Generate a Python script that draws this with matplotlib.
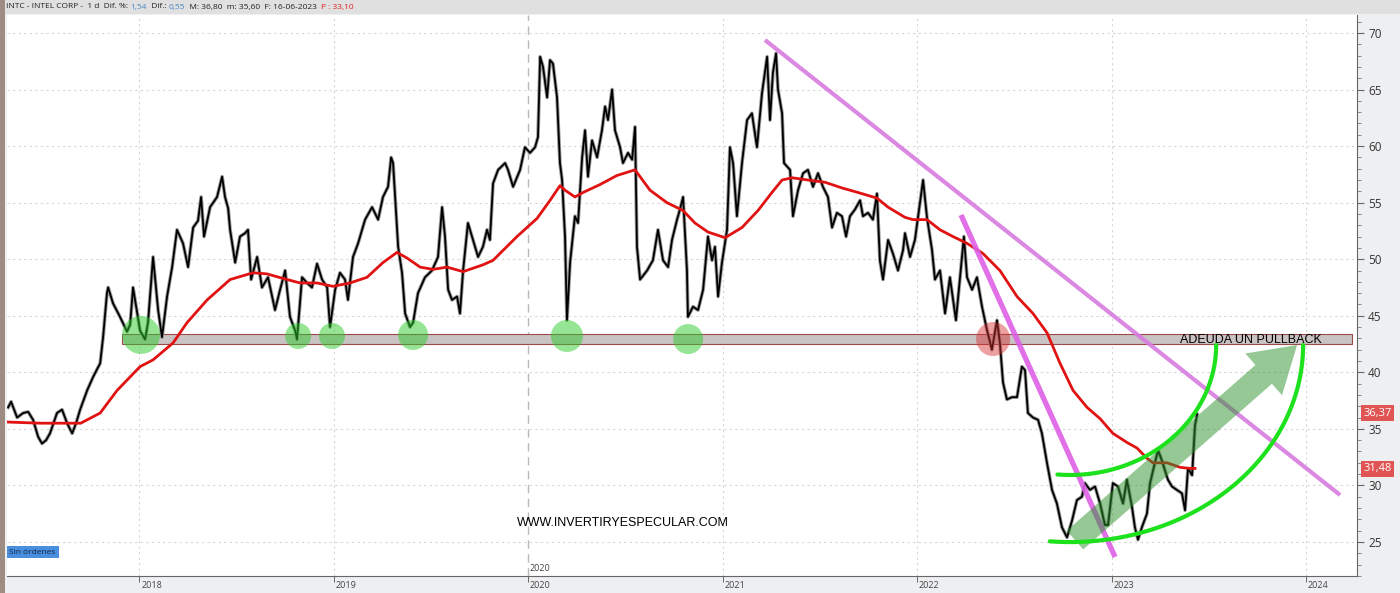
import matplotlib
matplotlib.use("Agg")
import matplotlib.pyplot as plt
import matplotlib.transforms as mtransforms
from matplotlib.patches import Ellipse, Rectangle, FancyArrowPatch
from matplotlib.ticker import MultipleLocator
import numpy as np

# ---------------- data ----------------
dates = [
    2017.327, 2017.342, 2017.373, 2017.404, 2017.430, 2017.455, 2017.481, 2017.501, 2017.522, 2017.542,
    2017.578, 2017.604, 2017.630, 2017.656, 2017.676, 2017.697, 2017.733, 2017.764, 2017.800, 2017.815,
    2017.835, 2017.841, 2017.866, 2017.902, 2017.938, 2017.954, 2017.969, 2018.005, 2018.031, 2018.046,
    2018.072, 2018.098, 2018.118, 2018.144, 2018.170, 2018.195, 2018.226, 2018.252, 2018.278, 2018.303,
    2018.319, 2018.334, 2018.365, 2018.401, 2018.427, 2018.442, 2018.458, 2018.468, 2018.494, 2018.519,
    2018.545, 2018.560, 2018.576, 2018.607, 2018.632, 2018.663, 2018.699, 2018.725, 2018.751, 2018.776,
    2018.802, 2018.812, 2018.838, 2018.864, 2018.889, 2018.915, 2018.941, 2018.967, 2018.982, 2019.008,
    2019.033, 2019.059, 2019.074, 2019.100, 2019.126, 2019.162, 2019.198, 2019.229, 2019.254, 2019.280,
    2019.296, 2019.306, 2019.332, 2019.352, 2019.368, 2019.393, 2019.409, 2019.434, 2019.470, 2019.506,
    2019.537, 2019.558, 2019.573, 2019.589, 2019.609, 2019.635, 2019.650, 2019.666, 2019.691, 2019.717,
    2019.743, 2019.768, 2019.789, 2019.804, 2019.820, 2019.846, 2019.882, 2019.897, 2019.923, 2019.959,
    2019.984, 2020.010, 2020.036, 2020.051, 2020.062, 2020.077, 2020.098, 2020.113, 2020.128, 2020.149,
    2020.164, 2020.175, 2020.190, 2020.200, 2020.216, 2020.241, 2020.257, 2020.278, 2020.293, 2020.308,
    2020.329, 2020.355, 2020.380, 2020.396, 2020.411, 2020.432, 2020.447, 2020.473, 2020.488, 2020.514,
    2020.535, 2020.550, 2020.560, 2020.576, 2020.612, 2020.642, 2020.668, 2020.694, 2020.720, 2020.740,
    2020.766, 2020.781, 2020.797, 2020.817, 2020.822, 2020.848, 2020.874, 2020.900, 2020.925, 2020.946,
    2020.961, 2020.977, 2020.997, 2021.023, 2021.038, 2021.054, 2021.074, 2021.100, 2021.126, 2021.151,
    2021.177, 2021.203, 2021.229, 2021.244, 2021.259, 2021.275, 2021.285, 2021.306, 2021.316, 2021.347,
    2021.362, 2021.388, 2021.414, 2021.439, 2021.465, 2021.491, 2021.516, 2021.542, 2021.563, 2021.588,
    2021.614, 2021.635, 2021.655, 2021.681, 2021.707, 2021.722, 2021.748, 2021.773, 2021.794, 2021.809,
    2021.825, 2021.851, 2021.876, 2021.902, 2021.928, 2021.938, 2021.964, 2021.989, 2022.005, 2022.031,
    2022.051, 2022.077, 2022.092, 2022.118, 2022.144, 2022.169, 2022.200, 2022.221, 2022.241, 2022.257,
    2022.283, 2022.308, 2022.334, 2022.360, 2022.385, 2022.411, 2022.426, 2022.442, 2022.462, 2022.488,
    2022.514, 2022.539, 2022.555, 2022.570, 2022.596, 2022.622, 2022.642, 2022.668, 2022.694, 2022.719,
    2022.745, 2022.771, 2022.797, 2022.822, 2022.848, 2022.863, 2022.889, 2022.915, 2022.941, 2022.966,
    2022.982, 2023.007, 2023.033, 2023.059, 2023.079, 2023.105, 2023.120, 2023.136, 2023.156, 2023.182,
    2023.198, 2023.223, 2023.239, 2023.259, 2023.275, 2023.290, 2023.311, 2023.336, 2023.362, 2023.378,
    2023.393, 2023.414, 2023.429, 2023.440,
]
close = [
    36.9, 37.4, 36.0, 36.4, 36.5, 35.8, 34.3, 33.7, 34.0, 34.6,
    36.4, 36.7, 35.5, 34.6, 35.5, 36.7, 38.4, 39.6, 40.8, 43.1,
    47.0, 47.5, 46.1, 44.9, 43.6, 44.2, 47.5, 43.7, 42.9, 44.4,
    50.2, 45.5, 43.1, 46.7, 49.3, 52.6, 51.4, 49.3, 52.8, 53.4,
    55.5, 52.0, 54.6, 55.5, 57.3, 55.5, 54.5, 52.6, 49.7, 52.0,
    52.3, 52.6, 48.2, 50.2, 47.5, 48.4, 45.5, 47.3, 49.0, 44.9,
    43.7, 42.9, 48.4, 47.9, 47.5, 49.6, 48.2, 47.5, 44.0, 47.3,
    48.8, 48.2, 46.4, 50.2, 51.4, 53.5, 54.6, 53.5, 55.5, 56.4,
    59.0, 58.5, 51.1, 48.8, 45.2, 44.0, 44.4, 47.0, 48.4, 49.0,
    50.2, 54.6, 52.0, 47.3, 46.4, 46.7, 45.2, 49.0, 53.2, 51.7,
    50.2, 51.1, 52.6, 51.7, 56.7, 57.9, 58.5, 57.9, 56.4, 57.9,
    59.9, 59.4, 59.9, 60.8, 67.9, 67.0, 64.3, 67.6, 67.3, 64.3,
    58.5, 57.0, 52.0, 44.6, 49.7, 53.8, 53.2, 59.0, 61.4, 57.3,
    60.5, 59.0, 61.4, 63.5, 62.3, 65.0, 61.4, 59.9, 58.5, 59.4,
    58.8, 61.7, 51.1, 48.2, 49.0, 49.9, 52.6, 49.9, 49.3, 51.7,
    53.5, 54.4, 55.5, 49.0, 44.9, 45.8, 45.5, 47.3, 52.0, 49.9,
    51.1, 46.7, 49.7, 52.6, 59.9, 58.5, 53.8, 58.5, 62.3, 62.9,
    59.9, 64.7, 67.9, 62.3, 66.5, 68.2, 65.0, 62.9, 58.5, 57.9,
    53.8, 56.1, 57.6, 57.9, 56.4, 57.6, 56.4, 55.5, 52.8, 54.1,
    53.8, 52.0, 53.8, 54.4, 55.2, 53.8, 54.1, 53.5, 55.8, 49.9,
    48.2, 51.7, 50.5, 49.0, 50.8, 52.3, 50.2, 51.7, 53.7, 57.0,
    53.7, 50.8, 48.2, 49.0, 45.2, 48.4, 44.6, 48.4, 52.0, 48.4,
    47.3, 48.4, 45.8, 43.7, 42.0, 44.6, 42.6, 39.1, 37.6, 37.8,
    37.8, 40.5, 40.2, 36.4, 36.0, 35.8, 34.6, 32.0, 29.6, 28.4,
    26.3, 25.4, 26.9, 28.7, 29.0, 30.2, 29.6, 29.9, 28.4, 26.5,
    26.5, 30.2, 29.9, 28.4, 30.5, 28.1, 26.3, 25.2, 26.3, 27.5,
    30.2, 32.0, 33.1, 32.2, 31.3, 30.5, 29.9, 29.6, 29.3, 27.8,
    31.5, 30.9, 35.3, 36.3,
]
ma_dates = [
    2017.327, 2017.490, 2017.700, 2017.800, 2017.887, 2018.005, 2018.072, 2018.175, 2018.247, 2018.350,
    2018.468, 2018.586, 2018.658, 2018.761, 2018.828, 2018.915, 2018.997, 2019.085, 2019.172, 2019.254,
    2019.326, 2019.378, 2019.445, 2019.511, 2019.583, 2019.666, 2019.768, 2019.820, 2019.943, 2020.046,
    2020.113, 2020.164, 2020.190, 2020.241, 2020.283, 2020.370, 2020.457, 2020.550, 2020.627, 2020.714,
    2020.797, 2020.858, 2020.925, 2021.013, 2021.100, 2021.182, 2021.254, 2021.306, 2021.357, 2021.439,
    2021.527, 2021.614, 2021.696, 2021.794, 2021.851, 2021.938, 2021.979, 2022.051, 2022.118, 2022.185,
    2022.257, 2022.339, 2022.426, 2022.514, 2022.596, 2022.668, 2022.735, 2022.802, 2022.874, 2022.941,
    2023.007, 2023.079, 2023.131, 2023.182, 2023.213, 2023.285, 2023.352, 2023.403, 2023.429,
]
ma_values = [
    35.6, 35.5, 35.5, 36.4, 38.4, 40.5, 41.1, 42.6, 44.4, 46.4,
    48.2, 48.8, 48.7, 48.2, 47.9, 47.9, 47.6, 47.9, 48.4, 49.7,
    50.6, 50.1, 49.3, 49.1, 49.3, 48.9, 49.5, 49.9, 52.0, 53.6,
    55.2, 56.5, 56.1, 55.5, 55.9, 56.6, 57.4, 57.9, 56.1, 55.0,
    54.3, 53.2, 52.4, 51.9, 52.8, 54.3, 55.9, 57.0, 57.2, 57.0,
    56.8, 56.3, 55.9, 55.4, 54.6, 53.7, 53.5, 53.5, 52.6, 52.0,
    51.4, 50.5, 49.0, 46.7, 45.2, 43.5, 40.8, 38.4, 36.9, 35.9,
    34.6, 33.8, 33.3, 32.4, 32.0, 32.0, 31.6, 31.5, 31.5,
]
year_ticks = [2018, 2019, 2020, 2021, 2022, 2023, 2024]
year_labels = ["2018", "2019", "2020", "2021", "2022", "2023", "2024"]
price_ticks = [25, 30, 35, 40, 45, 50, 55, 60, 65, 70]

last_price_label = 36.37
ma_price_label = 31.48

support_low, support_high = 42.5, 43.4
support_start, support_end = 2017.913, 2024.237
support_touches = [(2018.010, 43.30, 19), (2018.818, 43.21, 13), (2018.992, 43.21, 13),
                   (2019.409, 43.30, 15), (2020.200, 43.21, 16), (2020.823, 42.94, 15)]
break_touch = (2022.391, 42.94, 17)
long_trend = [(2021.218, 69.38), (2024.175, 29.15)]
steep_trend = [(2022.226, 53.91), (2023.018, 23.67)]
arc_center = (2022.787, 42.41)
inner_arc = (0.751, 11.49)
outer_arc = (1.198, 17.42)
arrow_tail = (2022.812, 25.17)
arrow_tip = (2023.954, 42.41)

# ---------------- figure ----------------
W, H = 1400, 593
fig = plt.figure(figsize=(W / 100, H / 100), dpi=100, facecolor="#EEEFF1")
ax = fig.add_axes([7 / W, 17 / H, 1350 / W, 561 / H])
ax.set_facecolor("white")
ax.set_xlim(2017.321, 2024.262)
ax.set_ylim(21.99, 71.59)

px_x = 1350 / (2024.262 - 2017.321)   # pixels per year
px_y = 561 / (71.59 - 21.99)          # pixels per dollar

# grid
for yv in price_ticks:
    ax.axhline(yv, color="#d6d6d6", lw=0.8, ls=(0, (2, 3)), zorder=0)
for xv in year_ticks:
    if xv != 2020:
        ax.axvline(xv, color="#d6d6d6", lw=0.8, ls=(0, (2, 3)), zorder=0)
ax.axvline(2020, color="#b8b8b8", lw=1.0, ls=(0, (6, 4)), zorder=0)
ax.text(2020.006, 22.65, "2020", fontsize=6.5, color="#444444", va="center", ha="left",
        family="Open Sans")

# support band
ax.add_patch(Rectangle((support_start, support_low), support_end - support_start,
                       support_high - support_low, facecolor="#c9c3c3", edgecolor="#9b4a4a",
                       lw=0.8, zorder=1))

# price and moving average
ax.plot(dates, close, color="#9a9a9a", lw=2.6, zorder=2)
ax.plot(dates, close, color="black", lw=1.3, zorder=3)
ax.plot(ma_dates, ma_values, color="#e01212", lw=2.0, zorder=4)

# touches
for (cx, cy, r) in support_touches:
    ax.add_patch(Ellipse((cx, cy), 2 * r / px_x, 2 * r / px_y, facecolor="#2dcd2d",
                         alpha=0.5, edgecolor="none", zorder=5))
cx, cy, r = break_touch
ax.add_patch(Ellipse((cx, cy), 2 * r / px_x, 2 * r / px_y, facecolor="#d72d2d",
                     alpha=0.45, edgecolor="none", zorder=5))

# trend lines
ax.plot([p[0] for p in long_trend], [p[1] for p in long_trend], color="#d77be0",
        lw=3.0, alpha=0.9, solid_capstyle="butt", zorder=6)
ax.plot([p[0] for p in steep_trend], [p[1] for p in steep_trend], color="#dd5fe6",
        lw=3.8, alpha=0.9, solid_capstyle="butt", zorder=6)

# arcs
t = np.radians(np.linspace(265, 360, 200))
for (a, b) in (inner_arc, outer_arc):
    ax.plot(arc_center[0] + a * np.cos(t), arc_center[1] + b * np.sin(t),
            color="#1ee11e", lw=3.0, solid_capstyle="round", zorder=7)

# arrow
arrow = FancyArrowPatch(arrow_tail, arrow_tip,
                        arrowstyle="simple,head_length=1.6,head_width=2.0,tail_width=0.9",
                        mutation_scale=20, facecolor="#2e922e", edgecolor="none",
                        alpha=0.5, shrinkA=0, shrinkB=0, zorder=6)
ax.add_patch(arrow)

# texts
ax.text(2023.717, 42.86, "ADEUDA UN PULLBACK", fontsize=9, color="black", ha="center",
        va="center", family="Liberation Sans", zorder=8)
ax.text(2020.488, 26.67, "WWW.INVERTIRYESPECULAR.COM", fontsize=9, color="black",
        ha="center", va="center", family="Liberation Sans", zorder=8)
blend = mtransforms.blended_transform_factory(ax.transAxes, ax.transData)
ax.text(0.0018, 24.11, "Sin órdenes", fontsize=6, color="#10254a", ha="left", va="center",
        family="Open Sans", transform=blend,
        bbox=dict(boxstyle="square,pad=0.35", fc="#4a8fde", ec="none"), zorder=8)

# axes styling
ax.yaxis.tick_right()
ax.set_yticks(price_ticks)
ax.set_yticklabels([str(v) for v in price_ticks])
ax.yaxis.set_minor_locator(MultipleLocator(1))
ax.tick_params(axis="y", which="major", direction="out", length=5, width=0.8,
               color="#666666", labelsize=8.5, labelcolor="#333333", pad=3)
ax.tick_params(axis="y", which="minor", direction="out", length=3, width=0.6, color="#777777")
for lab in ax.get_yticklabels():
    lab.set_family("Open Sans")

# year axis: tick marks from the axis, labels set just right of each tick
ax.set_xticks(year_ticks)
ax.set_xticklabels([])
ax.tick_params(axis="x", which="major", direction="out", length=4.5, width=0.7,
               color="#666666")
xlab_tr = mtransforms.blended_transform_factory(ax.transData, ax.transAxes) + \
    mtransforms.ScaledTranslation(2 / 100, -9 / 100, fig.dpi_scale_trans)
for xv, lab in zip(year_ticks, year_labels):
    ax.text(xv, 0, lab, transform=xlab_tr, fontsize=6.5, color="#444444", ha="left",
            va="center", family="Open Sans", clip_on=False)

for side in ("top", "left"):
    ax.spines[side].set_visible(False)
ax.spines["right"].set_color("#666666")
ax.spines["bottom"].set_color("#666666")

# price tags on the right axis
for val in (last_price_label, ma_price_label):
    ax.text(1.0045, val, f"{val:.2f}".replace(".", ","), transform=blend, fontsize=8,
            color="white", ha="left", va="center", family="Open Sans",
            bbox=dict(boxstyle="square,pad=0.22", fc="#e05454", ec="none"), zorder=10,
            clip_on=False)

# frame pieces: header bar and left border
fig.patches.append(Rectangle((0, 1 - 14 / H), 1, 14 / H, transform=fig.transFigure,
                             facecolor="#e0e0e0", edgecolor="none", zorder=0))
fig.patches.append(Rectangle((0, 0), 5 / W, 1, transform=fig.transFigure,
                             facecolor="#9c8c82", edgecolor="none", zorder=1))

parts = [("INTC - INTEL CORP -  1 d  Dif. %: ", "#222222"), ("1,54", "#4a86c8"),
         ("  Dif.: ", "#222222"), ("0,55", "#4a86c8"),
         ("  M: 36,80  m: 35,60  F: 16-06-2023  ", "#222222"), ("P : 33,10", "#e02020")]
renderer = fig.canvas.get_renderer()
xpos = 6 / W
for s, c in parts:
    tt = fig.text(xpos, 1 - 7 / H, s, color=c, fontsize=6, ha="left", va="center",
                  family="Open Sans")
    bb = tt.get_window_extent(renderer)
    xpos = bb.x1 / W

fig.savefig("out.png", dpi=100, facecolor=fig.get_facecolor())
